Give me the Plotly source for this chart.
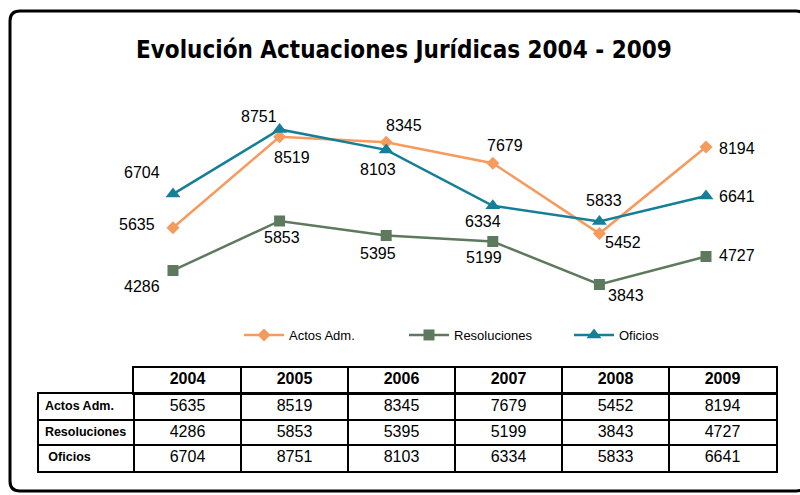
import plotly.graph_objects as go

years = ["2004", "2005", "2006", "2007", "2008", "2009"]
series_names = ["Actos Adm.", "Resoluciones", "Oficios"]
actos = [5635, 8519, 8345, 7679, 5452, 8194]
resoluciones = [4286, 5853, 5395, 5199, 3843, 4727]
oficios = [6704, 8751, 8103, 6334, 5833, 6641]
title_text = "Evolución Actuaciones Jurídicas 2004 - 2009"

# styles
colors = ["#F79A5E", "#5E7A5E", "#167F98"]
symbols = ["diamond", "square", "triangle-up"]
msizes = [10, 11, 13]
# label offsets in pixels (dx right, dy down)
label_offsets = [
    [(-36, -3), (12, 21), (18, -17), (12, -18), (24, 9), (31, 1)],
    [(-31, 16), (2, 17), (-8, 18), (-9, 16), (27, 11), (31, -1)],
    [(-31, -22), (-21, -13), (-8, 20), (-10, 16), (5, -21), (31, 0)],
]

W, H = 800, 495
COND = "DejaVu Sans Condensed, DejaVu Sans, sans-serif"
SANS = "Liberation Sans, Arial, sans-serif"
LW = 95 / 107  # width of the row-label column relative to a year column
LABEL_PAD = 0.055  # left padding of row labels, in year-column units

fig = go.Figure()
all_vals = [actos, resoluciones, oficios]
for name, vals, c, s, ms in zip(series_names, all_vals, colors, symbols, msizes):
    fig.add_trace(go.Scatter(
        x=years, y=vals, name=name, mode="lines+markers",
        line=dict(color=c, width=2.5),
        marker=dict(symbol=s, size=ms, color=c),
        xaxis="x", yaxis="y", hoverinfo="x+y+name",
    ))

annotations = []
for vals, offs in zip(all_vals, label_offsets):
    for i, (v, (dx, dy)) in enumerate(zip(vals, offs)):
        annotations.append(dict(
            x=i, y=v, xref="x", yref="y", text=str(v), showarrow=False,
            xshift=dx, yshift=-dy, font=dict(family=SANS, size=16, color="#000"),
        ))

annotations.append(dict(
    x=0.505, y=1 - 50 / H, xref="paper", yref="paper", text="<b>" + title_text + "</b>",
    showarrow=False, xanchor="center", yanchor="middle",
    font=dict(family=COND, size=24, color="#000"),
))

# ---- data table drawn on its own axes ----
col_centers = [i + 0.5 for i in range(len(years))]
# header row (years)
fig.add_trace(go.Scatter(
    x=col_centers, y=[0] * len(years), mode="text",
    text=["<b>" + y + "</b>" for y in years], textposition="middle center",
    textfont=dict(family=SANS, size=16, color="black"),
    xaxis="x3", yaxis="y3", showlegend=False, hoverinfo="skip", cliponaxis=False,
))
# body rows
for r, (name, vals) in enumerate(zip(series_names, all_vals)):
    fig.add_trace(go.Scatter(
        x=col_centers, y=[r] * len(vals), mode="text",
        text=[str(v) for v in vals], textposition="middle center",
        textfont=dict(family=SANS, size=16, color="black"),
        xaxis="x2", yaxis="y2", showlegend=False, hoverinfo="skip", cliponaxis=False,
    ))
row_label_text = ["<b>" + n + "</b>" for n in series_names]
row_label_text[2] = "<b>\u00a0" + series_names[2] + "</b>"
fig.add_trace(go.Scatter(
    x=[-LW + LABEL_PAD] * len(series_names), y=list(range(len(series_names))), mode="text",
    text=row_label_text, textposition="middle right",
    textfont=dict(family=SANS, size=12.5, color="black"),
    xaxis="x2", yaxis="y2", showlegend=False, hoverinfo="skip", cliponaxis=False,
))

grid = dict(showgrid=True, gridcolor="black", gridwidth=1.5, zeroline=False,
            showline=True, mirror=True, linecolor="black", linewidth=1.5,
            showticklabels=False, ticks="", fixedrange=True, tickmode="array")

# outer rounded border
x0, y0, x1, y1 = 10 / W, 1 - 11 / H, 806 / W, 1 - 491 / H
rx, ry = 10 / W, 10 / H
path = (f"M {x0+rx},{y0} L {x1-rx},{y0} Q {x1},{y0} {x1},{y0-ry} L {x1},{y1+ry} "
        f"Q {x1},{y1} {x1-rx},{y1} L {x0+rx},{y1} Q {x0},{y1} {x0},{y1+ry} "
        f"L {x0},{y0-ry} Q {x0},{y0} {x0+rx},{y0} Z")

fig.update_layout(
    width=W, height=H,
    margin=dict(l=0, r=0, t=0, b=0),
    paper_bgcolor="white", plot_bgcolor="white",
    showlegend=True,
    legend=dict(
        orientation="h", x=239 / W, y=1 - 335 / H, xanchor="left", yanchor="middle",
        font=dict(family=SANS, size=13, color="#000"),
        entrywidth=110, entrywidthmode="pixels", itemwidth=40,
        bgcolor="rgba(0,0,0,0)",
    ),
    xaxis=dict(domain=[119.7 / W, 759.3 / W], range=[-0.5, 5.5], type="category",
               visible=False, fixedrange=True),
    yaxis=dict(domain=[1 - 311 / H, 1 - 90 / H], range=[3000, 10000],
               visible=False, fixedrange=True),
    xaxis2=dict(domain=[39 / W, 776 / W], range=[-LW, len(years)],
                tickvals=list(range(len(years))), anchor="y2", **grid),
    yaxis2=dict(domain=[1 - 471 / H, 1 - 394 / H], range=[len(series_names) - 0.5, -0.5],
                tickvals=[r + 0.5 for r in range(len(series_names) - 1)], anchor="x2", **grid),
    xaxis3=dict(domain=[134 / W, 776 / W], range=[0, len(years)],
                tickvals=list(range(1, len(years))), anchor="y3", **grid),
    yaxis3=dict(domain=[1 - 392.5 / H, 1 - 368 / H], range=[-0.5, 0.5],
                tickvals=[], anchor="x3", **grid),
    annotations=annotations,
    shapes=[dict(type="path", path=path, xref="paper", yref="paper",
                 line=dict(color="black", width=3), layer="above")],
)

fig.write_html("out.html", post_script="document.body.style.margin='0';",
               config={"displayModeBar": False})
